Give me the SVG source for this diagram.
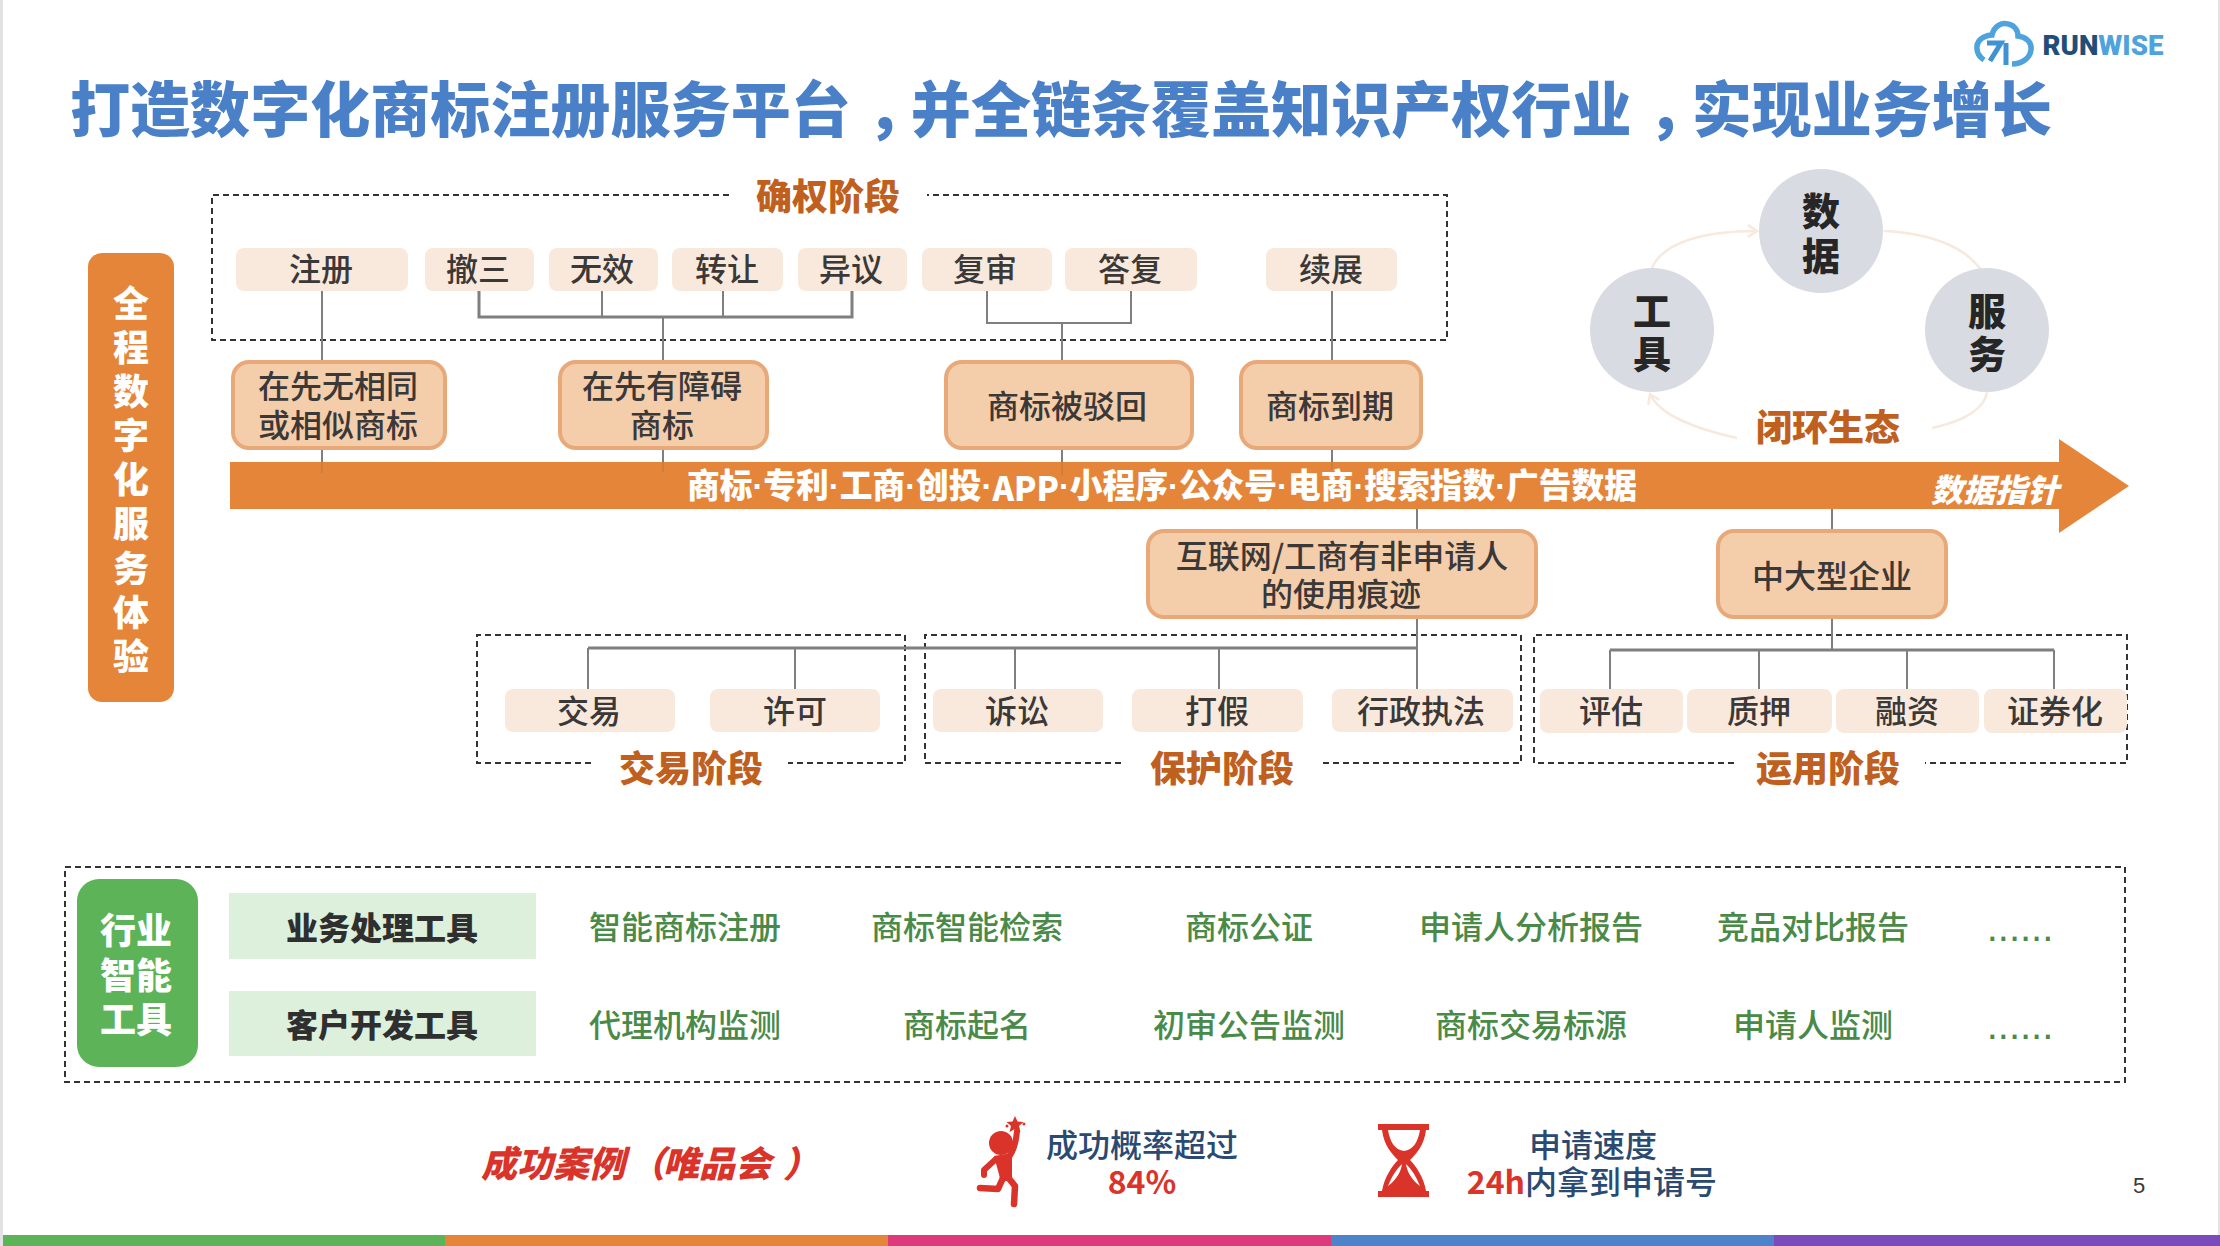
<svg xmlns="http://www.w3.org/2000/svg" width="2220" height="1246" viewBox="0 0 2220 1246">
<defs>
<style>
text{font-family:"Noto Sans CJK SC","Noto Sans",sans-serif;text-anchor:middle;dominant-baseline:central;transform:translateY(-2px)}
.s{font-size:32px;fill:#3b3838;font-weight:500}
.b{font-size:32px;fill:#3b3838;font-weight:500}
.st{font-size:36px;font-weight:900;fill:#bf5f20}
.g{font-size:32px;fill:#4a8a48;font-weight:500}
.dots{font-family:"Liberation Sans",sans-serif;font-size:40px;font-weight:400;fill:#4a8a48;dominant-baseline:alphabetic}
.sm{fill:#f8e9dc}
.md{fill:#f4cdaa;stroke:#e9a878;stroke-width:4}
.dash{fill:none;stroke:#333;stroke-width:2;stroke-dasharray:6 4}
.c{fill:none;stroke:#7f7f7f;stroke-width:2}
.cb{fill:none;stroke:#7f7f7f;stroke-width:3}
.f{fill:none;stroke:#c97a3c;stroke-width:1.500}
.arc{fill:none;stroke:#f7e9dd;stroke-width:2.500}
.circ{fill:#d9dbe3}
.ct{font-size:38px;font-weight:900;fill:#262626}
.w{font-weight:900;fill:#fff}
.tl{font-size:32px;font-weight:900;fill:#2f2f2f}
.nv{font-size:32px;fill:#2a4a72;font-weight:500}
.red{fill:#d9332a}
.rl{fill:none;stroke:#d9332a;stroke-linecap:round;stroke-linejoin:round}
</style>
<marker id="ah" markerWidth="14" markerHeight="14" refX="10" refY="7" orient="auto" markerUnits="userSpaceOnUse"><path d="M1 1L10 7L1 13" fill="none" stroke="#f7e9dd" stroke-width="2.500"/></marker>
</defs>
<rect width="2220" height="1246" fill="#fff"/>
<rect x="0" y="0" width="3" height="1246" fill="#e2e2e2"/>
<rect x="2218" y="0" width="2" height="1246" fill="#e2e2e2"/>
<g id="strip">
<rect x="3" y="1235" width="442" height="11" fill="#5cb358"/>
<rect x="445" y="1235" width="443" height="11" fill="#e5853a"/>
<rect x="888" y="1235" width="443" height="11" fill="#dc3a7a"/>
<rect x="1331" y="1235" width="443" height="11" fill="#4f83c9"/>
<rect x="1774" y="1235" width="446" height="11" fill="#7b4bbb"/>
</g>
<g id="logo">
<path d="M1984 60C1975 54 1974 42 1984 37C1988 35 1990 35 1992 35C1994 26 2002 22 2008 24C2014 25 2018 30 2018 36C2026 37 2032 42 2031 50C2030 58 2022 64 2012 64" fill="none" stroke="#4fa3dc" stroke-width="5.500"/>
<path d="M1987 43H2001L1990 61M2006 43V65" fill="none" stroke="#3f93d4" stroke-width="5"/>
<text x="2103" y="48" style="font-family:Roboto,'Liberation Sans',sans-serif;font-size:27px;font-weight:900" textLength="121" lengthAdjust="spacingAndGlyphs"><tspan fill="#1f4e79">RUN</tspan><tspan fill="#4fa3dc">WISE</tspan></text>
</g>
<text id="title" x="1061" y="107" style="font-size:60px;font-weight:900;fill:#4a80c8" textLength="1982" lengthAdjust="spacingAndGlyphs">打造数字化商标注册服务平台<tspan dx="16">，</tspan><tspan dx="-16">并全链条覆盖知识产权行业</tspan><tspan dx="16">，</tspan><tspan dx="-16">实现业务增长</tspan></text>

<g id="frames">
<path class="dash" d="M729 195H212V340H1447V195H927"/>
<path class="dash" d="M591 763H477V635H905V763H788"/>
<path class="dash" d="M1121 763H925V635H1521V763H1323"/>
<path class="dash" d="M1734 763H1534V635H2127V763H1925"/>
<rect class="dash" x="65" y="867" width="2060" height="215"/>
</g>

<g id="arrow"><path d="M230 462H2059V439L2129 486L2059 533V509H230Z" fill="#e5853a"/>
<text x="1162" y="488" class="w" style="font-size:34px;font-family:'Liberation Sans','Noto Sans CJK SC',sans-serif" textLength="950" lengthAdjust="spacingAndGlyphs">商标·专利·工商·创投·<tspan style="font-family:'Noto Sans CJK SC',sans-serif">APP</tspan>·小程序·公众号·电商·搜索指数·广告数据</text>
<text x="1995" y="490" class="w" style="font-size:32px;font-style:italic">数据指针</text>
</g>

<g id="connectors">
<path class="c" d="M322 291V360M663 317V360M663 450V462M1062 323V360M1062 450V462M1332 291V360M1332 450V462M322 450V462"/>
<path class="f" d="M322 462V473M663 462V472M1062 462V475M1332 462V470"/>
<path class="c" d="M602 291V317M723 291V317"/>
<path class="cb" d="M479 291V317H852V291"/>
<path class="c" d="M987 291V323H1131V291"/>
<path class="c" d="M1417 509V529M1417 619V689M1832 509V529M1832 619V650"/>
<path class="cb" d="M588 648H1417"/>
<path class="c" d="M588 648V689M795 648V689M1015 648V689M1219 648V689"/>
<path class="cb" d="M1610 650H2054"/>
<path class="c" d="M1610 650V689M1759 650V689M1907 650V689M2054 650V689"/>
<path class="arc" d="M1652 268C1664 240 1710 231 1757 231" marker-end="url(#ah)"/>
<path class="arc" d="M1884 231C1930 233 1975 248 1987 282" marker-end="url(#ah)"/>
<path class="arc" d="M1987 392C1985 408 1965 421 1932 428"/>
<path class="arc" d="M1737 438C1700 430 1660 416 1650 394" marker-end="url(#ah)"/>
</g>

<g id="pill"><rect x="88" y="253" width="86" height="449" rx="14" fill="#e5853a"/>
<g class="w" style="font-size:36px"><text x="131" y="303">全</text><text x="131" y="347">程</text><text x="131" y="391">数</text><text x="131" y="435">字</text><text x="131" y="479">化</text><text x="131" y="523">服</text><text x="131" y="568">务</text><text x="131" y="612">体</text><text x="131" y="656">验</text></g></g>

<g id="stage1-label"><text class="st" x="828" y="196">确权阶段</text></g>
<g id="n-zc"><rect class="sm" x="236" y="248" width="172" height="43" rx="8"/><text class="s" x="321" y="269">注册</text></g>
<g id="n-cs"><rect class="sm" x="425" y="248" width="109" height="43" rx="8"/><text class="s" x="478" y="269">撤三</text></g>
<g id="n-wx"><rect class="sm" x="549" y="248" width="109" height="43" rx="8"/><text class="s" x="602" y="269">无效</text></g>
<g id="n-zr"><rect class="sm" x="672" y="248" width="111" height="43" rx="8"/><text class="s" x="727" y="269">转让</text></g>
<g id="n-yy"><rect class="sm" x="798" y="248" width="109" height="43" rx="8"/><text class="s" x="851" y="269">异议</text></g>
<g id="n-fs"><rect class="sm" x="922" y="248" width="130" height="43" rx="8"/><text class="s" x="985" y="269">复审</text></g>
<g id="n-df"><rect class="sm" x="1065" y="248" width="132" height="43" rx="8"/><text class="s" x="1130" y="269">答复</text></g>
<g id="n-xz"><rect class="sm" x="1266" y="248" width="131" height="43" rx="8"/><text class="s" x="1331" y="269">续展</text></g>

<g id="n-m1"><rect class="md" x="233" y="362" width="212" height="86" rx="16"/><text class="b" x="338" y="386">在先无相同</text><text class="b" x="338" y="425">或相似商标</text></g>
<g id="n-m2"><rect class="md" x="560" y="362" width="207" height="86" rx="16"/><text class="b" x="662" y="386">在先有障碍</text><text class="b" x="662" y="425">商标</text></g>
<g id="n-m3"><rect class="md" x="946" y="362" width="246" height="86" rx="16"/><text class="b" x="1067" y="406">商标被驳回</text></g>
<g id="n-m4"><rect class="md" x="1241" y="362" width="180" height="86" rx="16"/><text class="b" x="1330" y="406">商标到期</text></g>

<g id="eco">
<g id="n-data"><circle class="circ" cx="1821" cy="231" r="62"/><text class="ct" x="1821" y="210">数</text><text class="ct" x="1821" y="255">据</text></g>
<g id="n-tool"><circle class="circ" cx="1652" cy="330" r="62"/><text class="ct" x="1652" y="310">工</text><text class="ct" x="1652" y="353">具</text></g>
<g id="n-serv"><circle class="circ" cx="1987" cy="330" r="62"/><text class="ct" x="1987" y="310">服</text><text class="ct" x="1987" y="353">务</text></g>
<text class="st" x="1828" y="427">闭环生态</text>
</g>

<g id="n-m5"><rect class="md" x="1148" y="531" width="388" height="86" rx="16"/><text class="b" x="1342" y="556">互联网/工商有非申请人</text><text class="b" x="1341" y="594">的使用痕迹</text></g>
<g id="n-m6"><rect class="md" x="1718" y="531" width="228" height="86" rx="16"/><text class="b" x="1832" y="576">中大型企业</text></g>

<g id="n-jy"><rect class="sm" x="505" y="689" width="170" height="43" rx="8"/><text class="s" x="589" y="711">交易</text></g>
<g id="n-xk"><rect class="sm" x="710" y="689" width="170" height="43" rx="8"/><text class="s" x="795" y="711">许可</text></g>
<g id="n-ss"><rect class="sm" x="933" y="689" width="170" height="43" rx="8"/><text class="s" x="1017" y="711">诉讼</text></g>
<g id="n-dj"><rect class="sm" x="1132" y="689" width="171" height="43" rx="8"/><text class="s" x="1217" y="711">打假</text></g>
<g id="n-xz2"><rect class="sm" x="1332" y="689" width="181" height="43" rx="8"/><text class="s" x="1421" y="711">行政执法</text></g>
<g id="n-pg"><rect class="sm" x="1540" y="689" width="143" height="44" rx="8"/><text class="s" x="1611" y="711">评估</text></g>
<g id="n-zy"><rect class="sm" x="1687" y="689" width="145" height="44" rx="8"/><text class="s" x="1759" y="711">质押</text></g>
<g id="n-rz"><rect class="sm" x="1836" y="689" width="143" height="44" rx="8"/><text class="s" x="1907" y="711">融资</text></g>
<g id="n-zq"><rect class="sm" x="1984" y="689" width="143" height="44" rx="8"/><text class="s" x="2055" y="711">证券化</text></g>
<text class="st" x="691" y="768">交易阶段</text>
<text class="st" x="1222" y="768">保护阶段</text>
<text class="st" x="1828" y="768">运用阶段</text>

<g id="tools">
<rect x="77" y="879" width="121" height="188" rx="22" fill="#5cb358"/>
<g class="w" style="font-size:36px"><text x="136" y="930">行业</text><text x="136" y="975">智能</text><text x="136" y="1019">工具</text></g>
<rect x="229" y="893" width="307" height="66" fill="#dcf0dc"/>
<rect x="229" y="991" width="307" height="65" fill="#dcf0dc"/>
<text class="tl" x="382" y="928">业务处理工具</text>
<text class="tl" x="382" y="1025">客户开发工具</text>
<text class="g" x="685" y="927">智能商标注册</text><text class="g" x="967" y="927">商标智能检索</text><text class="g" x="1249" y="927">商标公证</text><text class="g" x="1531" y="927">申请人分析报告</text><text class="g" x="1813" y="927">竞品对比报告</text><text class="dots" x="2020" y="943">......</text>
<text class="g" x="685" y="1025">代理机构监测</text><text class="g" x="967" y="1025">商标起名</text><text class="g" x="1249" y="1025">初审公告监测</text><text class="g" x="1531" y="1025">商标交易标源</text><text class="g" x="1813" y="1025">申请人监测</text><text class="dots" x="2020" y="1041">......</text>
</g>

<g id="cases">
<text class="red" x="481" y="1163" style="font-size:36px;font-weight:900;font-style:italic;text-anchor:start">成功案例<tspan dx="4">（</tspan><tspan dx="-2">唯品会</tspan><tspan dx="12">）</tspan></text>
<g id="runner">
<circle class="red" cx="1001" cy="1143" r="12"/>
<path class="red" d="M994 1156L1012 1153L1012 1180L1001 1182Z"/>
<path class="rl" stroke-width="6" d="M1008 1158C1013 1152 1016 1144 1017 1131"/>
<path class="rl" stroke-width="6" d="M996 1159L984 1170L984 1175"/>
<path class="rl" stroke-width="6.500" d="M1003 1178L998 1189L980 1188"/>
<path class="rl" stroke-width="6.500" d="M1007 1176L1015 1186L1014 1204"/>
<path class="red" d="M1015 1116l2.500 5.500l6 .5l-4.500 4l1.500 6l-5.500-3l-5.500 3l1.500-6l-4.500-4l6-.5Z"/>
<circle class="red" cx="1007" cy="1126" r="1.500"/><circle class="red" cx="1024" cy="1124" r="1.500"/>
</g>
<text class="nv" x="1142" y="1145">成功概率超过</text>
<text class="red" x="1142" y="1182" style="font-size:32px;font-weight:700">84%</text>
<g id="hourglass" class="red">
<rect x="1378" y="1124" width="51" height="6"/><rect x="1378" y="1191" width="51" height="6"/>
<path d="M1382 1130H1388C1390 1142 1395 1150 1404 1151C1413 1150 1418 1142 1420 1130H1426C1424 1146 1416 1154 1410 1160C1416 1166 1424 1178 1426 1191H1382C1384 1178 1392 1166 1398 1160C1392 1154 1384 1146 1382 1130Z"/>
<path d="M1388 1186C1392 1176 1396 1170 1402 1164C1401 1172 1396 1180 1388 1186ZM1420 1186C1416 1176 1412 1170 1406 1164C1407 1172 1412 1180 1420 1186Z" fill="#fff"/>
</g>
<text class="nv" x="1593" y="1145">申请速度</text>
<text class="nv" x="1592" y="1182"><tspan class="red" style="font-weight:700">24h</tspan>内拿到申请号</text>
<text x="2139" y="1187" style="font-size:22px;fill:#3b3838;font-family:'Liberation Sans',sans-serif">5</text>
</g>
</svg>
